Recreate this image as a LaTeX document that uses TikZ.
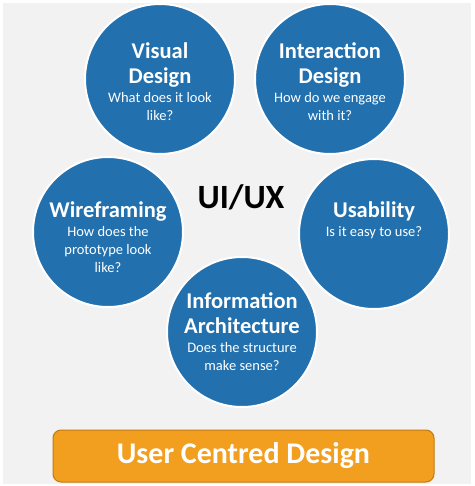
\documentclass[tikz,border=0pt]{standalone}
\usepackage{fontspec}
\setmainfont{Carlito}
\usepackage{xcolor}

\definecolor{topicblue}{HTML}{2270AE}
\definecolor{pageback}{HTML}{F2F2F2}
\definecolor{ucdorange}{HTML}{F29E1F}
\definecolor{ucdedge}{HTML}{C07A12}

\newcommand{\headfont}{\bfseries\fontsize{22.5}{26}\selectfont}
\newcommand{\askfont}{\mdseries\fontsize{14.5}{18}\selectfont}

\begin{document}
\begin{tikzpicture}[x=1pt, y=-1pt]
    \tikzstyle{topic} = [circle, draw=white, line width=2pt, fill=topicblue, inner sep=0pt, minimum size=150pt]
    \tikzstyle{topictext} = [text=white, align=center, inner sep=0pt, font=\askfont]
    \tikzstyle{ucdbox} = [rectangle, rounded corners=8pt, draw=ucdedge, line width=1pt, fill=ucdorange, minimum width=381pt, minimum height=52pt, text=white, font=\bfseries\fontsize{30}{32}\selectfont]

    % Page
    \fill[white] (0,0) rectangle (474,486);
    \fill[pageback] (3,3) rectangle (471,484);
    \useasboundingbox (0,0) rectangle (474,486);

    % Circles
    \node[topic] (visual) at (160,79) {};
    \node[topic] (interact) at (330,79) {};
    \node[topic] (wire) at (108,232) {};
    \node[topic] (usab) at (374,234) {};
    \node[topic] (info) at (242,332) {};

    % Circle texts
    \node[topictext, yshift=-3pt] (visualtxt) at (visual.center)
        {{\headfont Visual}\\[7pt] {\headfont Design}\\[1pt] What does it look\\ like?};
    \node[topictext, yshift=-3pt] (interacttxt) at (interact.center)
        {{\headfont Interaction}\\[7pt] {\headfont Design}\\[1pt] How do we engage\\ with it?};
    \node[topictext, yshift=-5pt] (wiretxt) at (wire.center)
        {{\headfont Wireframing}\\[1pt] How does the\\ prototype look\\ like?};
    \node[topictext, yshift=14pt] (usabtxt) at (usab.center)
        {{\headfont Usability}\\[1pt] Is it easy to use?};
    \node[topictext] (infotxt) at (info.center)
        {{\headfont Information}\\[7pt] {\headfont Architecture}\\[1pt] Does the structure\\ make sense?};

    % Centre title
    \node[font=\bfseries\fontsize{34}{36}\selectfont, text=black] (uiux) at (241,197) {UI/UX};

    % Bottom bar
    \node[ucdbox] (ucd) at (243.5,456) {User Centred Design};
\end{tikzpicture}
\end{document}
